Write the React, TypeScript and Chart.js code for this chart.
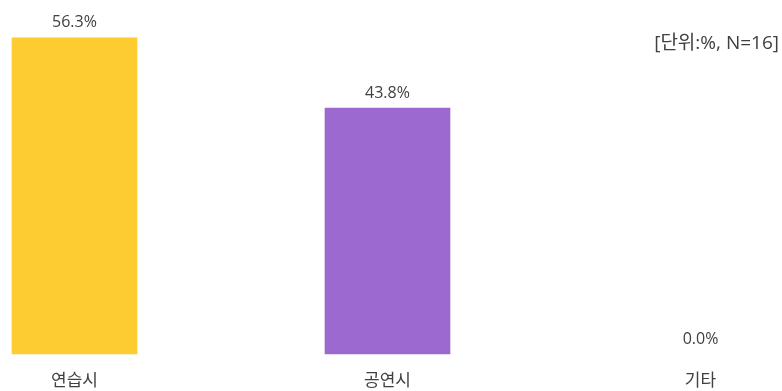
import React, { useEffect, useRef } from "react";
import { Chart, registerables } from "chart.js";

Chart.register(...registerables);

const categories = ["연습시", "공연시", "기타"];
const values = [56.3, 43.8, 0.0];
const barColors = ["#FCCC30", "#9B69CF", "rgba(0,0,0,0)"];
const unitNote = "[단위:%, N=16]";

const FONT = "'Open Sans', 'Noto Sans CJK KR', sans-serif";

const valueLabels = {
  id: "valueLabels",
  afterDatasetsDraw(chart: any) {
    const ctx = chart.ctx;
    const meta = chart.getDatasetMeta(0);
    ctx.save();
    ctx.font = `16px ${FONT}`;
    ctx.fillStyle = "#404040";
    ctx.textAlign = "center";
    ctx.textBaseline = "middle";
    meta.data.forEach((bar: any, i: number) => {
      ctx.fillText(values[i].toFixed(1) + "%", bar.x, bar.y - 15);
    });
    ctx.restore();
  },
};

const unitPlugin = {
  id: "unitNote",
  afterDraw(chart: any) {
    const ctx = chart.ctx;
    ctx.save();
    ctx.font = `19px ${FONT}`;
    ctx.fillStyle = "#404040";
    ctx.textAlign = "right";
    ctx.textBaseline = "middle";
    ctx.fillText(unitNote, 779, 44);
    ctx.restore();
  },
};

export default function App() {
  const ref = useRef<HTMLCanvasElement | null>(null);
  useEffect(() => {
    if (!ref.current) return;
    const chart = new Chart(ref.current, {
      type: "bar",
      data: {
        labels: categories,
        datasets: [
          {
            data: values,
            backgroundColor: barColors,
            borderWidth: 0,
            barThickness: 125,
            clip: false as any,
          },
        ],
      },
      options: {
        animation: false,
        responsive: true,
        maintainAspectRatio: false,
        layout: { padding: { left: 74.5, right: 81.5, top: 17, bottom: 0 } },
        plugins: { legend: { display: false }, tooltip: { enabled: false } },
        scales: {
          x: {
            offset: false,
            grid: { display: false, drawTicks: false },
            border: { display: false },
            ticks: {
              padding: 17,
              color: "#404040",
              font: { family: FONT, size: 17 },
              maxRotation: 0,
            },
            afterFit(scale: any) {
              scale.height = 37;
            },
          },
          y: {
            display: false,
            min: 0,
            max: 60,
          },
        },
      },
      plugins: [valueLabels, unitPlugin],
    });
    return () => chart.destroy();
  }, []);
  return (
    <div style={{ position: "absolute", left: 0, top: 0, width: 782, height: 391, background: "#fff" }}>
      <canvas ref={ref} />
    </div>
  );
}
